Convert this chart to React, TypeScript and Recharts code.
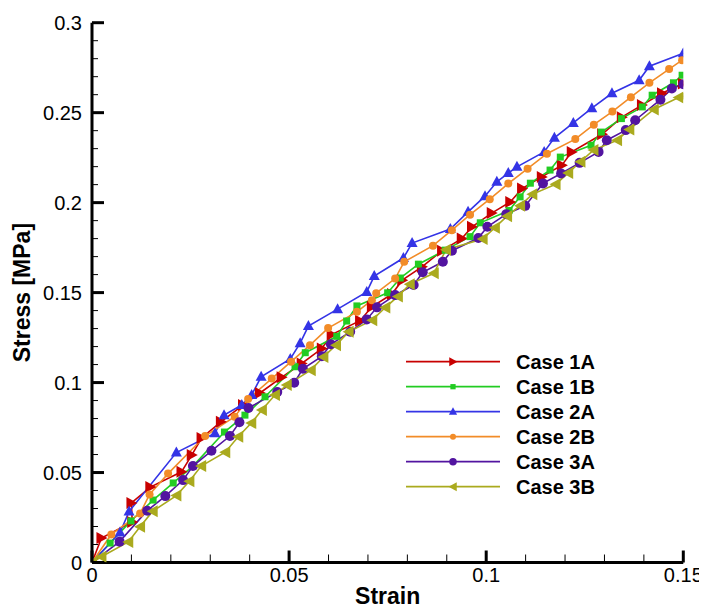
import React from 'react';
import { LineChart, Line, XAxis, YAxis, Legend } from 'recharts';

type P = { x: number; y: number };

const xTicks = [0, 0.01, 0.02, 0.03, 0.04, 0.05, 0.06, 0.07, 0.08, 0.09, 0.1, 0.11, 0.12, 0.13, 0.14, 0.15];
const yTicks = [0, 0.01, 0.02, 0.03, 0.04, 0.05, 0.06, 0.07, 0.08, 0.09, 0.1, 0.11, 0.12, 0.13, 0.14, 0.15, 0.16, 0.17, 0.18, 0.19, 0.2, 0.21, 0.22, 0.23, 0.24, 0.25, 0.26, 0.27, 0.28, 0.29, 0.3];
const xMajorLabels = ['0', '0.05', '0.1', '0.15'];
const yMajorLabels = ['0', '0.05', '0.1', '0.15', '0.2', '0.25', '0.3'];

const seriesNames = ['Case 1A', 'Case 1B', 'Case 2A', 'Case 2B', 'Case 3A', 'Case 3B'];
const seriesColors = ['#c80000', '#22cc22', '#3434e6', '#f28c28', '#5214a0', '#aaaa1e'];
const seriesShapes = ['triRight', 'square', 'triUp', 'smallDot', 'circle', 'triLeft'];

const pts = (a: number[][]): P[] => a.map(([x, y]) => ({ x, y }));

const case1A = pts([
  [0, 0], [0.0024, 0.0136], [0.0102, 0.0225], [0.01, 0.0331], [0.0148, 0.0419], [0.0227, 0.0504], [0.0253, 0.0597],
  [0.0278, 0.0692], [0.0327, 0.0782], [0.0383, 0.0875], [0.0426, 0.0942], [0.0481, 0.1029], [0.0532, 0.1106],
  [0.0583, 0.1189], [0.0608, 0.1267], [0.068, 0.1344], [0.071, 0.1421], [0.0761, 0.1492], [0.0787, 0.1569],
  [0.0837, 0.1643], [0.0888, 0.1733], [0.0938, 0.18], [0.0964, 0.1866], [0.1014, 0.1942], [0.1061, 0.2004],
  [0.1091, 0.2078], [0.1141, 0.2143], [0.1192, 0.2208], [0.1217, 0.2282], [0.1294, 0.238], [0.1344, 0.2475],
  [0.1395, 0.2542], [0.1446, 0.2608], [0.1499, 0.2662],
]);

const case1B = pts([
  [0, 0], [0.0046, 0.0108], [0.0099, 0.0231], [0.0155, 0.0347], [0.0206, 0.0442], [0.0256, 0.0536], [0.0336, 0.0725],
  [0.0388, 0.0819], [0.0439, 0.0921], [0.0515, 0.1088], [0.0541, 0.1166], [0.0621, 0.1257], [0.0646, 0.1342],
  [0.0672, 0.1426], [0.075, 0.1499], [0.0782, 0.1581], [0.0828, 0.1658], [0.0896, 0.1736], [0.0959, 0.1811],
  [0.0985, 0.1888], [0.1058, 0.1956], [0.1086, 0.2032], [0.1112, 0.2108], [0.1162, 0.2181], [0.1188, 0.2253],
  [0.1266, 0.2319], [0.1292, 0.2392], [0.1343, 0.2467], [0.1396, 0.2532], [0.1421, 0.2597], [0.1475, 0.2666],
  [0.1497, 0.2708],
]);

const case2A = pts([
  [0, 0], [0.0071, 0.0167], [0.0094, 0.0283], [0.0214, 0.0611], [0.0312, 0.0719], [0.0335, 0.0819], [0.038, 0.0875],
  [0.0405, 0.0931], [0.0429, 0.1032], [0.0503, 0.1131], [0.0528, 0.1219], [0.0549, 0.1314], [0.0623, 0.1408],
  [0.0697, 0.1504], [0.0716, 0.1592], [0.079, 0.1692], [0.0812, 0.1775], [0.0909, 0.1853], [0.0954, 0.1949],
  [0.0997, 0.2036], [0.1027, 0.2116], [0.1056, 0.2164], [0.1078, 0.2199], [0.1147, 0.2282], [0.1173, 0.236],
  [0.1221, 0.2443], [0.1268, 0.2525], [0.1319, 0.2608], [0.1388, 0.268], [0.1414, 0.2758], [0.15, 0.283],
]);

const case2B = pts([
  [0, 0], [0.0049, 0.0156], [0.0122, 0.0272], [0.0146, 0.0378], [0.0193, 0.0494], [0.0287, 0.0703], [0.0362, 0.081],
  [0.0396, 0.0908], [0.0456, 0.1022], [0.0505, 0.1116], [0.0553, 0.1208], [0.0599, 0.1303], [0.0672, 0.1393],
  [0.071, 0.1458], [0.0721, 0.1497], [0.0769, 0.1578], [0.0792, 0.1671], [0.0865, 0.1761], [0.0913, 0.1847],
  [0.0959, 0.1933], [0.1009, 0.2019], [0.1056, 0.2106], [0.1105, 0.2189], [0.1154, 0.2272], [0.1226, 0.2353],
  [0.1273, 0.2433], [0.132, 0.2506], [0.1367, 0.2586], [0.1414, 0.2666], [0.1464, 0.2742], [0.1497, 0.2792],
]);

const case3A = pts([
  [0, 0], [0.007, 0.0116], [0.014, 0.0288], [0.0186, 0.0369], [0.0231, 0.0458], [0.0256, 0.0536], [0.0303, 0.0621],
  [0.035, 0.0703], [0.0374, 0.0779], [0.0397, 0.0859], [0.047, 0.0947], [0.0513, 0.0999], [0.0535, 0.1077],
  [0.0583, 0.1146], [0.0606, 0.1213], [0.0655, 0.1282], [0.0697, 0.1351], [0.0723, 0.1418], [0.0769, 0.1486],
  [0.0816, 0.1542], [0.0839, 0.1613], [0.089, 0.1671], [0.0913, 0.1733], [0.098, 0.1803], [0.1003, 0.1866],
  [0.1051, 0.1936], [0.1099, 0.1982], [0.1144, 0.2107], [0.119, 0.2162], [0.1237, 0.2221], [0.1285, 0.2282],
  [0.1306, 0.2347], [0.1354, 0.2403], [0.1378, 0.2458], [0.1442, 0.2572], [0.1471, 0.2634], [0.15, 0.2658],
]);

const case3B = pts([
  [0, 0], [0.0024, 0.0032], [0.0092, 0.0114], [0.0122, 0.0199], [0.0154, 0.0285], [0.0214, 0.0372], [0.0247, 0.0452],
  [0.0277, 0.0536], [0.0338, 0.0613], [0.0371, 0.0699], [0.0404, 0.0775], [0.0431, 0.0847], [0.0464, 0.0931],
  [0.0494, 0.0986], [0.0555, 0.1069], [0.0587, 0.1142], [0.0619, 0.1208], [0.0651, 0.1282], [0.0711, 0.1347],
  [0.0744, 0.1417], [0.0776, 0.1479], [0.0806, 0.1546], [0.0867, 0.1607], [0.0898, 0.1738], [0.0991, 0.1798],
  [0.1022, 0.1861], [0.1053, 0.1925], [0.1086, 0.1983], [0.1117, 0.2046], [0.1176, 0.2102], [0.1208, 0.2164],
  [0.1239, 0.2227], [0.1272, 0.2292], [0.1332, 0.2347], [0.1363, 0.2407], [0.1425, 0.2518], [0.1488, 0.2584],
  [0.15, 0.2592],
]);

const allSeries = [case1A, case1B, case2A, case2B, case3A, case3B];

const FONT = '"Liberation Sans", Arial, Helvetica, sans-serif';

function Marker({ shape, cx, cy, color, s = 1 }: { shape: string; cx: number; cy: number; color: string; s?: number }) {
  switch (shape) {
    case 'triRight':
      return <polygon points={`${cx + 6 * s},${cy} ${cx - 5 * s},${cy - 6 * s} ${cx - 5 * s},${cy + 6 * s}`} fill={color} />;
    case 'triLeft':
      return <polygon points={`${cx - 6 * s},${cy} ${cx + 5 * s},${cy - 6 * s} ${cx + 5 * s},${cy + 6 * s}`} fill={color} />;
    case 'triUp':
      return <polygon points={`${cx},${cy - 6 * s} ${cx - 5.5 * s},${cy + 4 * s} ${cx + 5.5 * s},${cy + 4 * s}`} fill={color} />;
    case 'square':
      return <rect x={cx - 3.5 * s} y={cy - 3.5 * s} width={7 * s} height={7 * s} fill={color} />;
    case 'smallDot':
      return <circle cx={cx} cy={cy} r={4 * s} fill={color} />;
    default:
      return <circle cx={cx} cy={cy} r={5 * s} fill={color} />;
  }
}

const makeDot = (shape: string, color: string) => (props: any) => {
  const { cx, cy, index } = props;
  if (cx == null || cy == null) return <g key={`d-${index}`} />;
  return (
    <g key={`d-${shape}-${index}`}>
      <Marker shape={shape} cx={cx} cy={cy} color={color} />
    </g>
  );
};

const isMajor = (v: number) => Math.abs(v * 20 - Math.round(v * 20)) < 1e-6;

const YTick = (props: any) => {
  const { x, y, payload } = props;
  const v = payload.value as number;
  const major = isMajor(v);
  const ax = x + 10;
  const label = major ? yMajorLabels[Math.round(v * 20)] : '';
  return (
    <g>
      <line x1={ax} x2={ax + (major ? 12 : 6)} y1={y} y2={y} stroke="#000" strokeWidth={major ? 3 : 1} />
      {major && (
        <text x={x} y={y} dy="0.36em" textAnchor="end" fontFamily={FONT} fontSize={20} fill="#000">
          {label}
        </text>
      )}
    </g>
  );
};

const XTick = (props: any) => {
  const { x, y, payload } = props;
  const v = payload.value as number;
  const major = isMajor(v);
  const label = major ? xMajorLabels[Math.round(v * 20)] : '';
  return (
    <g>
      <line x1={x} x2={x} y1={y} y2={y - (major ? 12 : 8)} stroke="#000" strokeWidth={major ? 3 : 1} />
      {major && (
        <text x={x} y={y + 19.5} textAnchor="middle" fontFamily={FONT} fontSize={20} fill="#000">
          {label}
        </text>
      )}
    </g>
  );
};

const LegendBox = () => (
  <svg width={240} height={160} style={{ display: 'block' }}>
    {seriesNames.map((name, i) => {
      const cy = 13.7 + i * 25;
      return (
        <g key={name}>
          <line x1={8} x2={102} y1={cy} y2={cy} stroke={seriesColors[i]} strokeWidth={1.8} />
          <Marker shape={seriesShapes[i]} cx={55} cy={cy} color={seriesColors[i]} s={0.75} />
          <text x={118} y={cy + 7} fontFamily={FONT} fontWeight="bold" fontSize={20} fill="#000">
            {name}
          </text>
        </g>
      );
    })}
  </svg>
);

export default function App() {
  return (
    <LineChart
      width={699}
      height={603}
      margin={{ top: 14.7, right: 23.7, bottom: 0.5, left: 0 }}
      style={{ background: '#fff' }}
    >
      <XAxis
        dataKey="x"
        type="number"
        domain={[0, 0.15]}
        ticks={xTicks}
        interval={0}
        allowDataOverflow
        height={48}
        tickSize={0}
        tickMargin={0}
        tickLine={false}
        axisLine={{ stroke: '#000', strokeWidth: 3 }}
        tick={<XTick />}
        label={{
          content: (p: any) => {
            const vb = p.viewBox || { x: 84, y: 554.5, width: 591.3 };
            return (
              <text
                x={vb.x + vb.width / 2}
                y={vb.y + 41.5}
                textAnchor="middle"
                fontFamily={FONT}
                fontWeight="bold"
                fontSize={23}
                fill="#000"
              >
                Strain
              </text>
            );
          },
        }}
      />
      <YAxis
        type="number"
        domain={[0, 0.3]}
        ticks={yTicks}
        interval={0}
        allowDataOverflow
        width={84}
        tickSize={0}
        tickMargin={10}
        tickLine={false}
        axisLine={{ stroke: '#000', strokeWidth: 3 }}
        tick={<YTick />}
        label={{
          content: (p: any) => {
            const vb = p.viewBox || { x: 0, y: 14.7, height: 539.8 };
            const cy = vb.y + vb.height / 2;
            return (
              <text
                transform={`translate(22, ${cy}) rotate(-90)`}
                x={0}
                y={0}
                textAnchor="middle"
                fontFamily={FONT}
                fontWeight="bold"
                fontSize={23}
                fill="#000"
              >
                Stress [MPa]
              </text>
            );
          },
        }}
      />
      {allSeries.map((data, i) => (
        <Line
          key={seriesNames[i]}
          name={seriesNames[i]}
          data={data}
          dataKey="y"
          type="linear"
          stroke={seriesColors[i]}
          strokeWidth={1.6}
          dot={makeDot(seriesShapes[i], seriesColors[i])}
          activeDot={false}
          isAnimationActive={false}
        />
      ))}
      <Legend
        layout="vertical"
        align="center"
        verticalAlign="middle"
        wrapperStyle={{ left: 390, top: 340, width: 240, height: 160 }}
        content={() => <LegendBox />}
      />
    </LineChart>
  );
}
